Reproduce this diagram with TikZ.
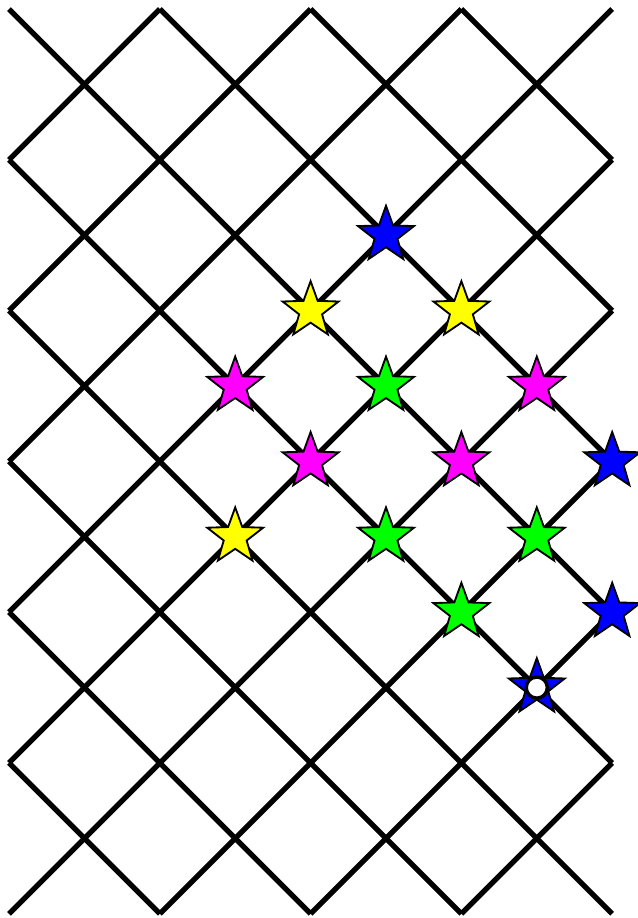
\documentclass[tikz,border=0pt]{standalone}
\definecolor{sblue}{RGB}{0,0,255}
\definecolor{syellow}{RGB}{255,255,0}
\definecolor{smagenta}{RGB}{255,0,255}
\definecolor{sgreen}{RGB}{0,255,0}
\begin{document}
\begin{tikzpicture}[y=-1cm,
  gridline/.style={line width=2pt, black},
  starbody/.style={draw=black, line width=0.7pt, line join=miter},
  hole/.style={fill=white, draw=black, line width=1.3pt}]
\useasboundingbox (-0.1194,-0.1194) rectangle (8.342,12.056);
\def\R{0.39}
\def\r{0.16}
% down-right lines (x - y = c)
\foreach \xa/\ya/\xb/\yb in {0/10/2/12, 0/8/4/12, 0/6/6/12, 0/4/8/12, 0/2/8/10, 0/0/8/8, 2/0/8/6, 4/0/8/4, 6/0/8/2}
  \draw[gridline] (\xa,\ya) -- (\xb,\yb);
% down-left lines (x + y = c)
\foreach \xa/\ya/\xb/\yb in {2/0/0/2, 4/0/0/4, 6/0/0/6, 8/0/0/8, 8/2/0/10, 8/4/0/12, 8/6/2/12, 8/8/4/12, 8/10/6/12}
  \draw[gridline] (\xa,\ya) -- (\xb,\yb);
% stars
\foreach \px/\py/\col in {5/3/sblue, 4/4/syellow, 6/4/syellow, 3/5/smagenta, 5/5/sgreen, 7/5/smagenta, 4/6/smagenta, 6/6/smagenta, 8/6/sblue, 3/7/syellow, 5/7/sgreen, 7/7/sgreen, 6/8/sgreen, 8/8/sblue, 7/9/sblue}
  \draw[starbody, fill=\col, shift={(\px,\py)}]
    (-90:\R) -- (-54:\r) -- (-18:\R) -- (18:\r) -- (54:\R) -- (90:\r) -- (126:\R) -- (162:\r) -- (198:\R) -- (234:\r) -- cycle;
\node[circle, hole, minimum size=0.28cm, inner sep=0pt] (h) at (7,9) {};
\end{tikzpicture}
\end{document}
